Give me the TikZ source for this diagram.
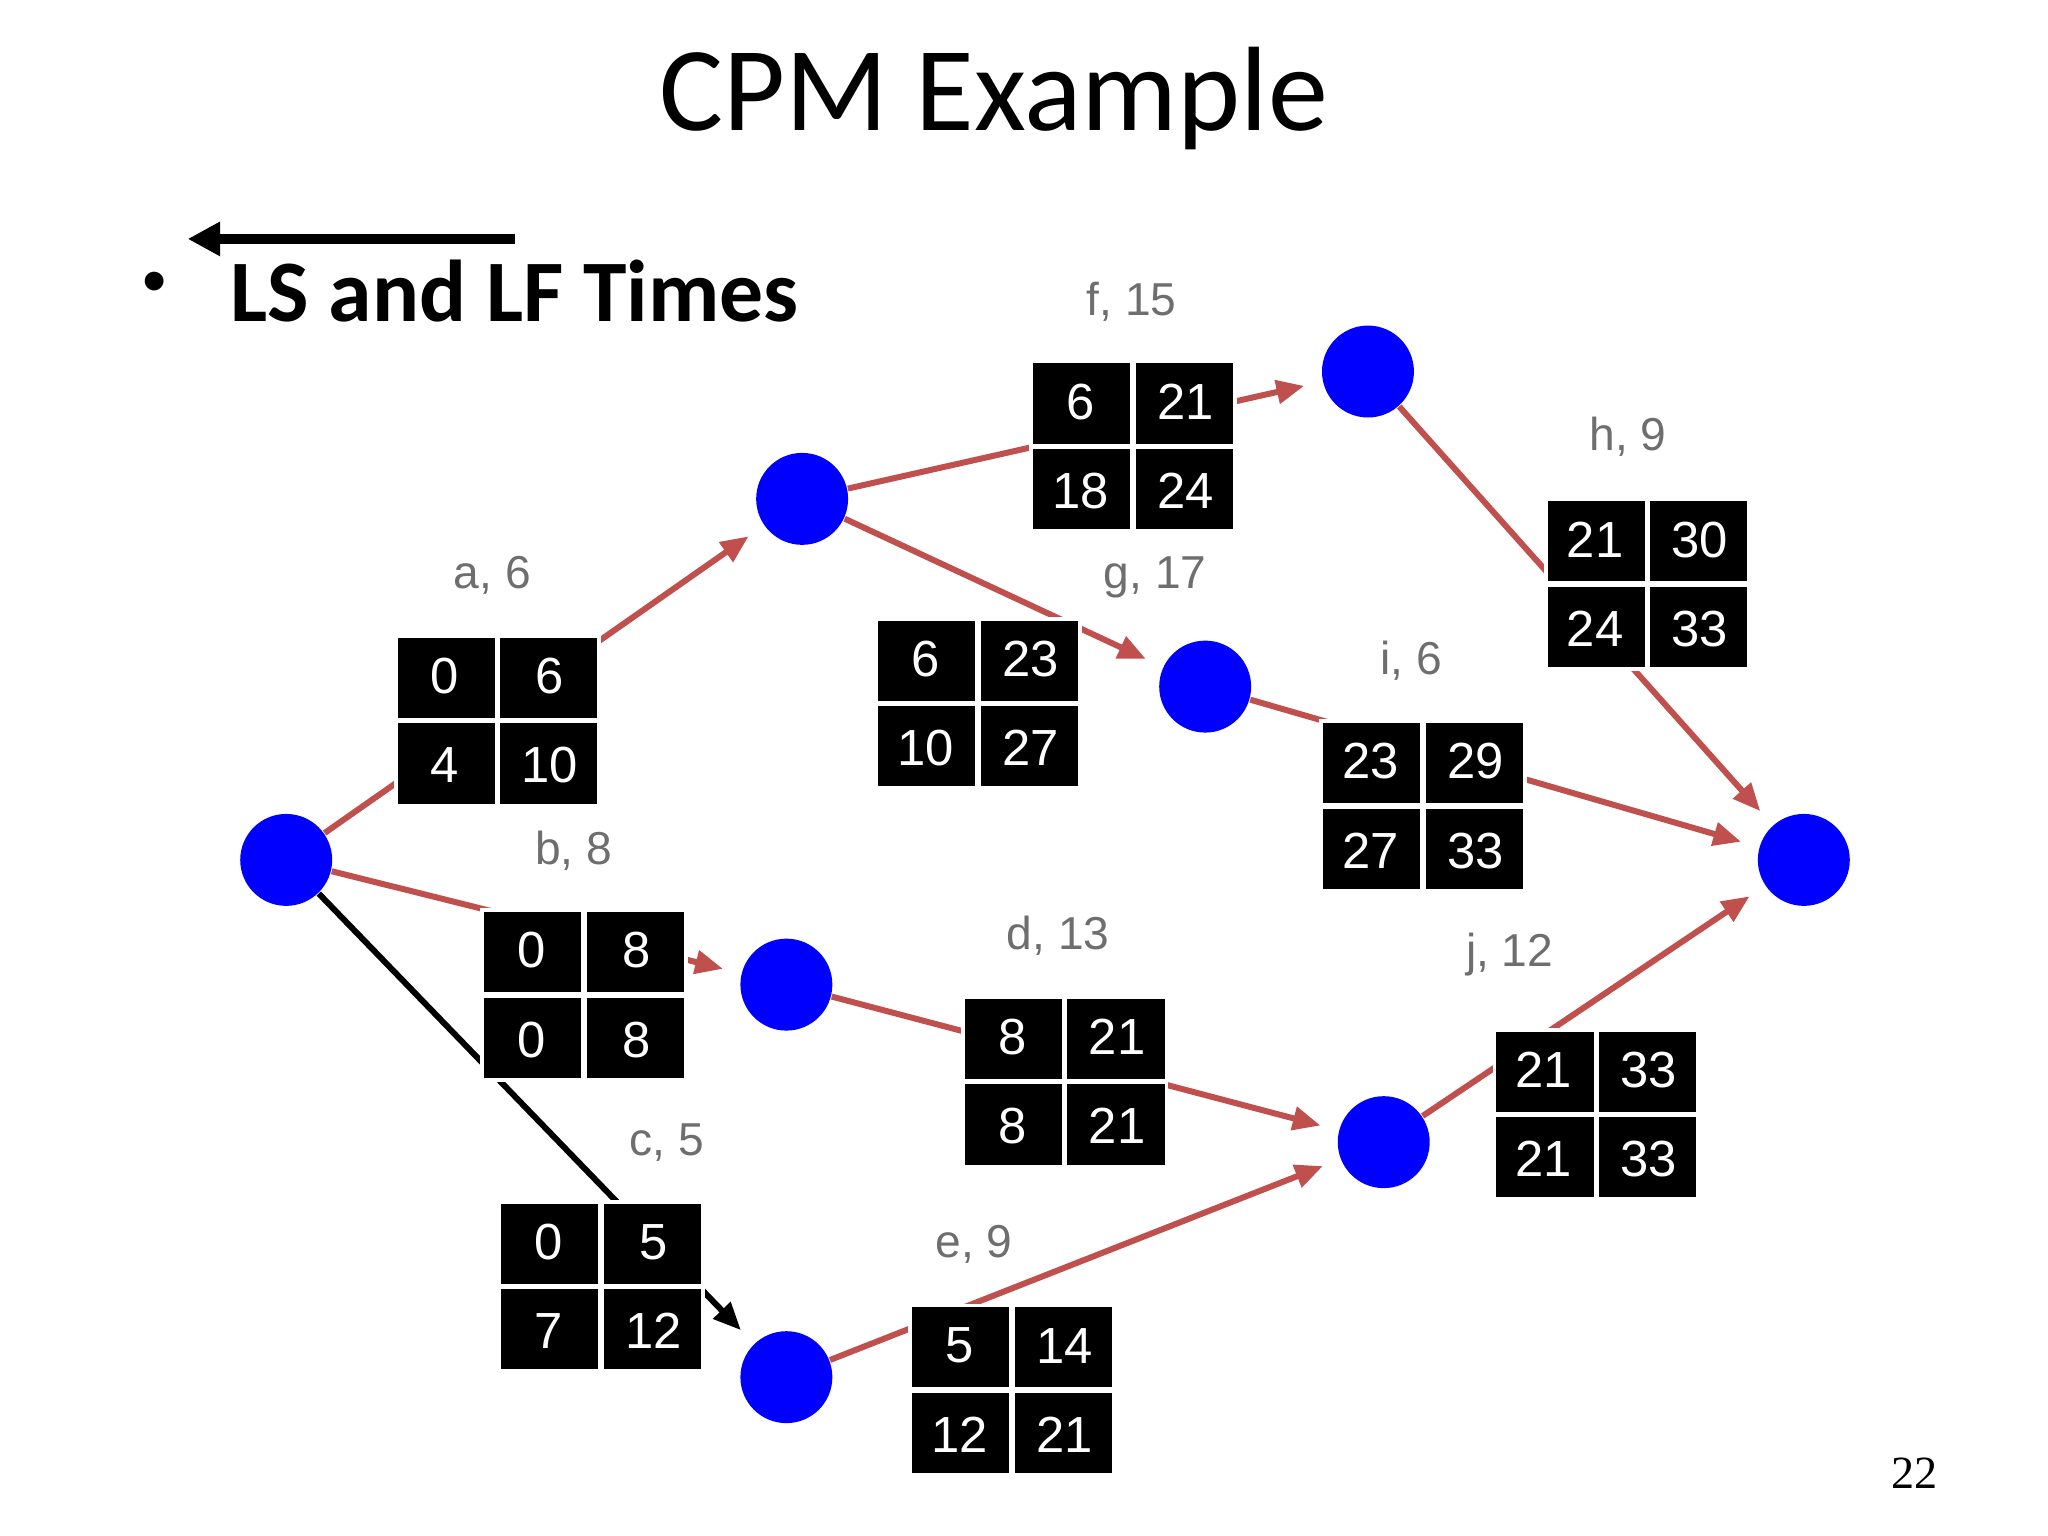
\documentclass[tikz,border=0pt]{standalone}
\usepackage{fontspec}
\setmainfont{Liberation Sans}
\newfontfamily\calib{Carlito}
\newfontfamily\serifpg{Liberation Serif}
\usetikzlibrary{arrows.meta,calc}
\definecolor{edgered}{RGB}{192,80,77}
\definecolor{lblgray}{RGB}{110,110,110}
\tikzset{
 evt/.style={circle, fill=blue, minimum size=0.7cm, inner sep=0pt},
 rel/.style={draw=edgered, line width=1.3pt, -{Triangle[length=6pt,width=5pt]}, shorten >=4pt},
 blk/.style={draw=black, line width=1.3pt, -{Triangle[length=6pt,width=5pt]}, shorten >=4pt},
 boxst/.style={fill=black, draw=white, line width=0.8pt, minimum width=1.55cm, minimum height=1.29cm, inner sep=0pt},
 num/.style={text=white, font=\fontsize{11}{11}\selectfont},
 lbl/.style={text=lblgray, font=\fontsize{10}{10}\selectfont},
}
\newcommand\cpmbox[7]{%
 \node[boxst, anchor=north west] (#1) at (#2,#3) {};
 \draw[white, line width=1.2pt] (#1.north) -- (#1.south) (#1.west) -- (#1.east);
 \node[num] at ($(#1.north west)+(0.39cm,-0.32cm)$) {#4};
 \node[num] at ($(#1.north east)+(-0.39cm,-0.32cm)$) {#5};
 \node[num] at ($(#1.south west)+(0.39cm,0.32cm)$) {#6};
 \node[num] at ($(#1.south east)+(-0.39cm,0.32cm)$) {#7};
}
\begin{document}
\begin{tikzpicture}[x=0.01cm,y=-0.01cm]
\useasboundingbox (0,0) rectangle (1560,1170);
\node[font=\calib\fontsize{26}{26}\selectfont] (title) at (757,75) {CPM Example};
\node[font=\calib\bfseries\fontsize{19}{19}\selectfont, anchor=west] (ls) at (163,222) {LS and LF Times};
\node[font=\fontsize{15}{15}\selectfont] (bul) at (118,220) {•};
\coordinate (arrA) at (392,182);
\coordinate (arrB) at (143,182);
\draw[line width=2pt, -{Triangle[length=7pt,width=7pt]}] (arrA) -- (arrB);
\node[font=\serifpg\fontsize{10}{10}\selectfont] (pg) at (1458,1122) {22};

\node[evt] (n1) at (218,655) {};
\node[evt] (n2) at (611,380) {};
\node[evt] (n3) at (1042,283) {};
\node[evt] (n4) at (918,523) {};
\node[evt] (n5) at (599,750) {};
\node[evt] (n6) at (1054,870) {};
\node[evt] (n7) at (599,1049) {};
\node[evt] (n8) at (1374,655) {};

\draw[rel] (n1) -- (n2);
\draw[rel] (n1) -- (n5);
\draw[blk] (n1) -- (n7);
\draw[rel] (n5) -- (n6);
\draw[rel] (n7) -- (n6);
\draw[rel] (n2) -- (n3);
\draw[rel] (n2) -- (n4);
\draw[rel] (n3) -- (n8);
\draw[rel] (n4) -- (n8);
\draw[rel] (n6) -- (n8);

\cpmbox{ba}{300}{483}{0}{6}{4}{10}
\cpmbox{bb}{366}{692}{0}{8}{0}{8}
\cpmbox{bc}{379}{914}{0}{5}{7}{12}
\cpmbox{bd}{732}{758}{8}{21}{8}{21}
\cpmbox{be}{692}{993}{5}{14}{12}{21}
\cpmbox{bf}{784}{274}{6}{21}{18}{24}
\cpmbox{bg}{666}{470}{6}{23}{10}{27}
\cpmbox{bh}{1176}{379}{21}{30}{24}{33}
\cpmbox{bi}{1005}{548}{23}{29}{27}{33}
\cpmbox{bj}{1137}{783}{21}{33}{21}{33}

\node[lbl] (la) at (375,438) {a, 6};
\node[lbl] (lb) at (437,648) {b, 8};
\node[lbl] (lc) at (508,870) {c, 5};
\node[lbl] (ld) at (806,713) {d, 13};
\node[lbl] (le) at (742,948) {e, 9};
\node[lbl] (lf) at (862,230) {f, 15};
\node[lbl] (lg) at (880,440) {g, 17};
\node[lbl] (lh) at (1240,333) {h, 9};
\node[lbl] (li) at (1075,503) {i, 6};
\node[lbl] (lj) at (1150,727) {j, 12};
\end{tikzpicture}
\end{document}
